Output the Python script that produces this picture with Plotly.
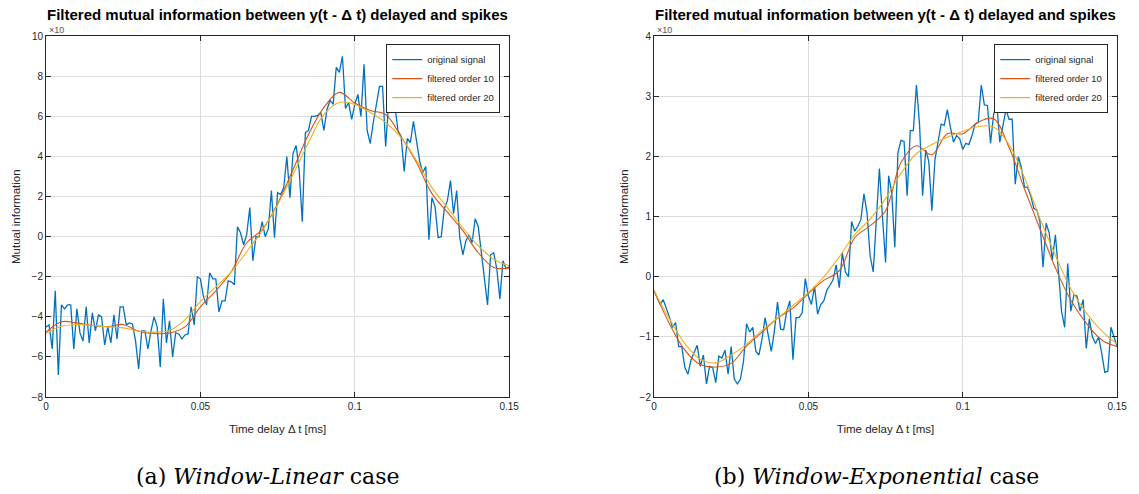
import plotly.graph_objects as go

# ---------------- data ----------------
# time delay axis (s): raw signal sampled every 0.001, filtered curves read every 0.005
t_raw = [round(i * 0.001, 3) for i in range(151)]
t_filt = [round(i * 0.005, 3) for i in range(31)]

# (a) Window-Linear case
lin_original = [
    -4.5, -4.4, -5.6, -2.7, -6.9, -3.4, -3.6, -3.4, -3.4, -5.6,
    -3.6, -4.8, -5.2, -3.5, -5.3, -3.8, -4.7, -3.9, -4.0, -5.4,
    -4.5, -5.3, -3.9, -5.1, -3.5, -3.5, -4.4, -4.3, -4.35, -5.2,
    -6.6, -4.7, -4.7, -5.6, -4.7, -4.0, -4.5, -6.5, -3.1, -5.3,
    -4.2, -6.0, -4.8, -4.85, -5.1, -4.9, -4.85, -3.5, -4.4, -2.0,
    -2.1, -3.0, -3.4, -1.8, -2.1, -2.1, -3.75, -3.2, -3.2, -2.2,
    -2.25, -2.4, 0.5, 0.2, -0.4, 0.1, 1.45, -1.2, 0.0, 0.0,
    0.75, 0.0, 0.4, 2.3, -0.05, 2.2, 2.1, 2.45, 4.0, 1.95,
    4.15, 4.55, 3.3, 0.75, 5.2, 5.3, 6.0, 6.0, 6.05, 6.2,
    5.3, 6.35, 6.8, 6.6, 8.45, 8.2, 9.0, 6.4, 6.7, 5.85,
    6.6, 7.1, 6.0, 8.6, 5.3, 4.65, 5.7, 6.7, 7.5, 7.5,
    4.5, 6.75, 6.5, 6.5, 5.3, 5.0, 3.26, 4.9, 4.7, 5.75,
    4.8, 3.8, 3.2, 3.5, -0.15, 1.95, 1.5, -0.05, 0.0, 1.4,
    1.8, 2.8, 1.15, 2.3, -0.05, -0.9, -0.2, 0.1, -0.3, 0.9,
    0.5, -0.8, -1.85, -3.4, -0.9, -0.8, -1.6, -3.1, -1.2, -1.6,
    -1.5,
]
lin_order10 = [
    -4.77, -4.24, -4.3, -4.43, -4.48, -4.38, -4.72, -4.83, -4.8, -4.5,
    -3.5, -2.7, -1.75, -0.3, 0.35, 1.65, 3.34, 5.1, 6.45, 7.2,
    6.67, 6.3, 6.1, 5.0, 3.7, 2.15, 1.23, 0.3, -0.8, -1.53,
    -1.57,
]
lin_order20 = [
    -4.82, -4.47, -4.38, -4.42, -4.5, -4.55, -4.7, -4.76, -4.68, -4.15,
    -3.23, -2.5, -1.75, -0.75, 0.3, 1.6, 3.1, 4.7, 6.1, 6.7,
    6.6, 6.2, 5.7, 4.95, 3.8, 2.45, 1.45, 0.44, -0.45, -1.12,
    -1.45,
]

# (b) Window-Exponential case
exp_original = [
    -0.23, -0.36, -0.46, -0.38, -0.51, -0.67, -0.84, -0.76, -1.16, -1.16,
    -1.51, -1.62, -1.38, -1.27, -1.14, -1.49, -1.3, -1.78, -1.49, -1.51,
    -1.76, -1.32, -1.35, -1.22, -1.62, -1.16, -1.7, -1.78, -1.7, -1.4,
    -0.78, -0.92, -0.84, -1.24, -1.3, -1.03, -0.68, -0.97, -1.24, -0.9,
    -0.42, -0.87, -0.88, -0.57, -0.4, -1.38, -0.68, -0.68, -0.6, -0.03,
    -0.32, -0.46, -0.16, -0.62, -0.46, -0.4, -0.22, -0.14, -0.05, 0.2,
    -0.18, 0.4, 0.08, 0.0, 0.92, 0.76, 0.84, 0.95, 1.38, 1.06,
    0.35, 0.08, 0.97, 1.8, 1.0, 0.24, 1.68, 1.4, 0.49, 2.06,
    2.27, 2.25, 1.35, 2.43, 2.43, 3.19, 2.54, 1.35, 2.11, 1.92,
    1.1, 1.95, 2.24, 2.54, 2.52, 2.78, 2.49, 2.24, 2.35, 2.3,
    2.12, 2.22, 2.2, 2.35, 2.54, 2.57, 3.19, 2.86, 2.85, 2.22,
    2.7, 2.9, 2.24, 2.51, 2.78, 2.62, 2.62, 1.54, 2.0, 1.81,
    1.49, 1.49, 1.35, 1.14, 1.11, 0.92, 0.16, 0.89, 0.73, 0.27,
    0.7, 0.08, -0.57, -0.84, 0.22, -0.57, -0.3, -0.32, -0.57, -0.38,
    -1.19, -0.7, -1.0, -1.11, -1.0, -1.27, -1.59, -1.57, -0.84, -1.0,
    -1.16,
]
exp_order10 = [
    -0.23, -0.78, -1.22, -1.46, -1.5, -1.44, -1.15, -0.92, -0.69, -0.52,
    -0.28, -0.06, 0.1, 0.65, 0.85, 1.1, 1.9, 2.18, 2.03, 2.38,
    2.38, 2.57, 2.63, 2.15, 1.46, 0.8, 0.15, -0.39, -0.77, -1.05,
    -1.16,
]
exp_order20 = [
    -0.23, -0.7, -1.11, -1.37, -1.43, -1.3, -1.12, -0.89, -0.69, -0.48,
    -0.26, 0.0, 0.33, 0.7, 0.96, 1.3, 1.72, 2.05, 2.2, 2.32,
    2.42, 2.5, 2.49, 2.2, 1.65, 0.97, 0.36, -0.2, -0.6, -0.9,
    -1.12,
]

series_names = ["original signal", "filtered order 10", "filtered order 20"]
x_ticks = [0, 0.05, 0.1, 0.15]
x_ticktext = ["0", "0.05", "0.1", "0.15"]
lin_yticks = [-8, -6, -4, -2, 0, 2, 4, 6, 8, 10]
exp_yticks = [-2, -1, 0, 1, 2, 3, 4]

title_text = "Filtered mutual information between y(t - \u0394 t) delayed and spikes"
xlabel_text = "Time delay \u0394 t [ms]"
ylabel_text = "Mutual information"
captions = ["(a) <i>Window-Linear</i> case", "(b) <i>Window-Exponential</i> case"]

# ---------------- style ----------------
W, H = 1139, 494
BLUE, ORANGE, YELLOW = "#0072BD", "#D95319", "#EDB120"
AX = "#262626"
GRID = "#dcdcdc"
SANS = "Liberation Sans, Arial, Helvetica, sans-serif"
SERIF = "DejaVu Serif, serif"

left_dom = [43.5 / W, 512 / W]
right_dom = [658.5 / W, 1127 / W]
y_dom = [(H - 401) / H, (H - 32) / H]

fig = go.Figure()

panels = [
    ("x", "y", "legend", lin_original, lin_order10, lin_order20),
    ("x2", "y2", "legend2", exp_original, exp_order10, exp_order20),
]
for xa, ya, lg, orig, f10, f20 in panels:
    fig.add_trace(go.Scatter(x=t_raw, y=orig, mode="lines", name=series_names[0],
                             line=dict(color=BLUE, width=1.3), xaxis=xa, yaxis=ya, legend=lg))
    fig.add_trace(go.Scatter(x=t_filt, y=f10, mode="lines", name=series_names[1],
                             line=dict(color=ORANGE, width=1.1, shape="spline", smoothing=1.0),
                             xaxis=xa, yaxis=ya, legend=lg))
    fig.add_trace(go.Scatter(x=t_filt, y=f20, mode="lines", name=series_names[2],
                             line=dict(color=YELLOW, width=1.1, shape="spline", smoothing=1.0),
                             xaxis=xa, yaxis=ya, legend=lg))

common_x = dict(range=[0, 0.15], tickvals=x_ticks, ticktext=x_ticktext,
                showline=True, mirror="ticks", linecolor=AX, linewidth=1,
                ticks="inside", ticklen=5, tickcolor=AX, showgrid=True, gridcolor=GRID,
                gridwidth=1, zeroline=False, tickfont=dict(family=SANS, size=10, color=AX),
                title=dict(text=xlabel_text, font=dict(family=SANS, size=11.5, color=AX), standoff=13),
                fixedrange=True)
common_y = dict(showline=True, mirror="ticks", linecolor=AX, linewidth=1,
                ticks="inside", ticklen=5, tickcolor=AX, showgrid=True, gridcolor=GRID,
                gridwidth=1, zeroline=False, tickfont=dict(family=SANS, size=10, color=AX),
                title=dict(text=ylabel_text, font=dict(family=SANS, size=11.5, color=AX), standoff=8),
                fixedrange=True)

legend_style = dict(xanchor="right", yanchor="top", bgcolor="white", bordercolor=AX,
                    borderwidth=1, font=dict(family=SANS, size=9.5, color=AX),
                    tracegroupgap=0, itemwidth=30)

fig.update_layout(
    width=W, height=H, margin=dict(l=0, r=0, t=0, b=0),
    paper_bgcolor="white", plot_bgcolor="white",
    showlegend=True,
    xaxis=dict(domain=left_dom, anchor="y", **common_x),
    yaxis=dict(domain=y_dom, anchor="x", range=[-8, 10], tickvals=lin_yticks, **common_y),
    xaxis2=dict(domain=right_dom, anchor="y2", **common_x),
    yaxis2=dict(domain=y_dom, anchor="x2", range=[-2, 4], tickvals=exp_yticks, **common_y),
    legend=dict(x=503 / W, y=(H - 40) / H, **legend_style),
    legend2=dict(x=1118 / W, y=(H - 40) / H, **legend_style),
)

annotations = []
for dom, cap, cx in [(left_dom, captions[0], 268), (right_dom, captions[1], 884)]:
    annotations.append(dict(x=dom[0] + 1 / W, y=(H - 26) / H, xref="paper", yref="paper",
                            text="\u00d710", showarrow=False, xanchor="left", yanchor="middle",
                            font=dict(family=SANS, size=9, color="#555555")))
    annotations.append(dict(x=(dom[0] + dom[1]) / 2, y=(H - 10) / H, xref="paper", yref="paper",
                            text="<b>" + title_text + "</b>", showarrow=False,
                            xanchor="center", yanchor="middle",
                            font=dict(family=SANS, size=15, color="black")))
    annotations.append(dict(x=cx / W, y=(H - 482) / H, xref="paper", yref="paper",
                            text=cap, showarrow=False, xanchor="center", yanchor="middle",
                            font=dict(family=SERIF, size=22, color="black")))
fig.update_layout(annotations=annotations)

fig.write_html("out.html", config={"displayModeBar": False})
